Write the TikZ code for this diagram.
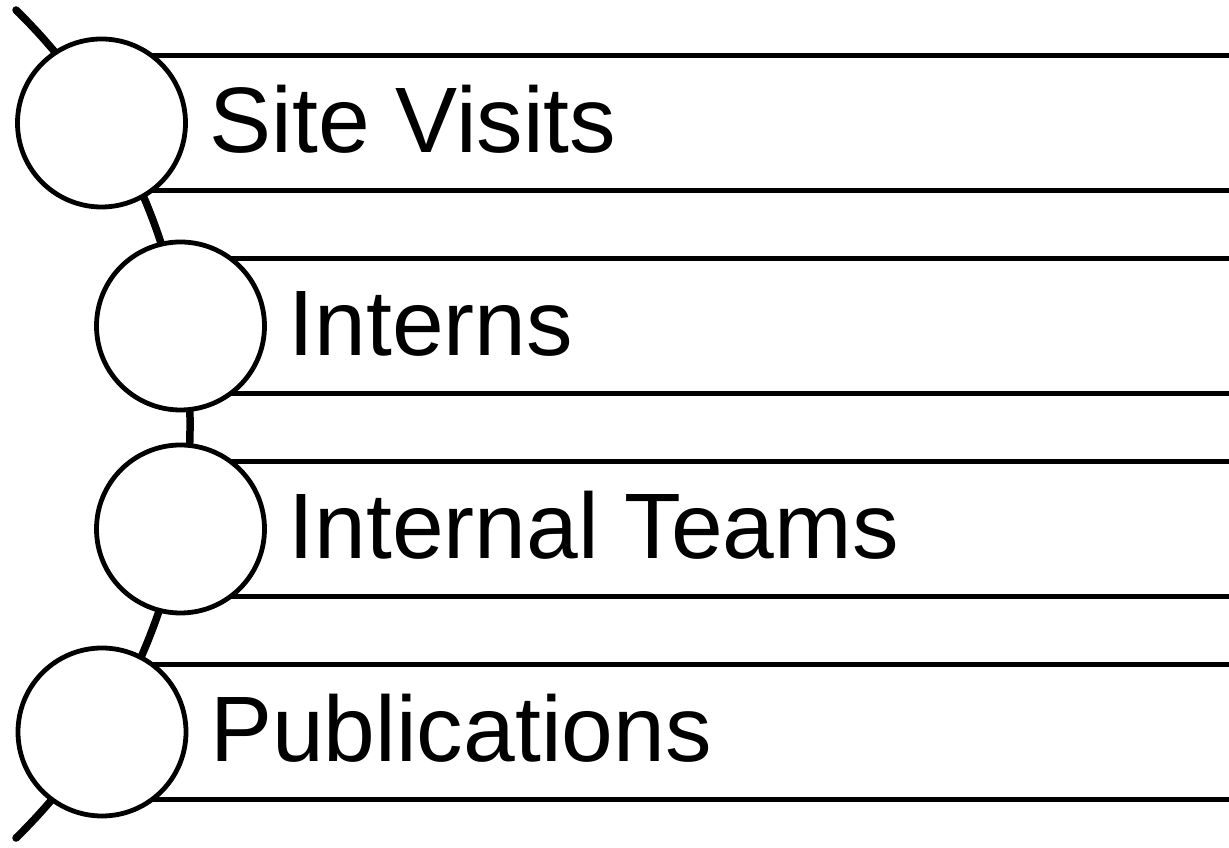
\documentclass[tikz,border=0pt]{standalone}
\usepackage{fontspec}
\setmainfont{Liberation Sans}
\begin{document}
\begin{tikzpicture}[x=1pt,y=1pt,
  bullet/.style={circle,draw=black,fill=white,line width=4.8pt,inner sep=0pt,minimum size=168pt},
  bar/.style={rectangle,draw=black,fill=white,line width=4.8pt,inner sep=0pt,minimum height=135.5pt,minimum width=1160pt,anchor=west},
  lbl/.style={anchor=base west,inner sep=0pt,font=\fontsize{93}{100}\selectfont},
  spine/.style={line width=7.5pt,line cap=round}]
\useasboundingbox (0,0) rectangle (1229,848);
\clip (0,0) rectangle (1229,848);
% spine arc
\coordinate (arctop) at (16,838);
\draw[spine] (arctop) arc[start angle=45.6,end angle=-45.6,radius=579.5];
% centres
\coordinate (p1) at (101.5,725);
\coordinate (p2) at (180.5,522);
\coordinate (p3) at (180.5,319);
\coordinate (p4) at (102,116);
% bars
\node[bar] (r1) at (p1) {};
\node[bar] (r2) at (p2) {};
\node[bar] (r3) at (p3) {};
\node[bar] (r4) at (p4) {};
% circles
\node[bullet] (c1) at (p1) {};
\node[bullet] (c2) at (p2) {};
\node[bullet] (c3) at (p3) {};
\node[bullet] (c4) at (p4) {};
% labels
\node[lbl] (t1) at ([shift={(108,-29.5)}]p1) {Site Visits};
\node[lbl] (t2) at ([shift={(108,-29.5)}]p2) {Interns};
\node[lbl] (t3) at ([shift={(108,-29.5)}]p3) {Internal Teams};
\node[lbl] (t4) at ([shift={(108,-29.5)}]p4) {Publications};
\end{tikzpicture}
\end{document}
